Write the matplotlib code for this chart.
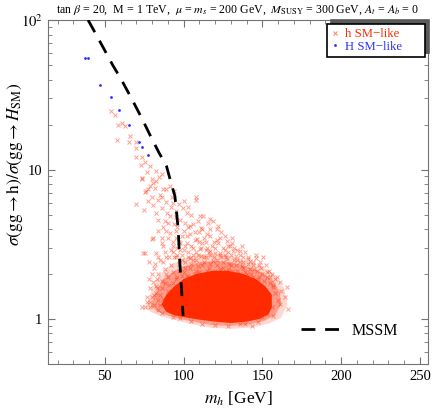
import matplotlib
matplotlib.use('Agg')
import matplotlib.pyplot as plt
from matplotlib.lines import Line2D

plt.rcParams['font.family'] = ['Liberation Serif', 'DejaVu Serif']
plt.rcParams['mathtext.fontset'] = 'stix'

# MSSM curve
mssm_mh = [39.4, 44.5, 49.5, 55, 60.6, 68, 74, 78.6, 84, 89.2, 92.4, 94.5, 96.6, 97.6, 98.5, 99.2, 99.7]
mssm_ratio = [100, 80, 64, 50, 39.8, 28.5, 21.5, 17.1, 13.2, 10.5, 7.9, 6.65, 3.98, 2.39, 1.7, 1.3, 1.05]

# H SM-like points
H_mh = [37.3, 39.4, 46.8, 53.8, 59.3, 65.2, 71.8, 73.9, 77.5]
H_ratio = [56, 56, 36.9, 30.5, 25, 19.9, 15.2, 14.1, 12.6]

# h SM-like points: sparse tail
tail_mh = [53.8, 56.3, 58.5, 61.0, 62.7, 65.9, 57.8, 65.2, 69.7, 69.5, 70.1, 73.3, 75.4, 72.7, 79.0,
           82.8, 86.6, 73.3, 79.7, 82.8, 78.6, 77.5, 81.8, 88.8, 91.3, 85.3, 76.0, 107.8, 92.4, 70.1,
           74.8, 75.4, 80.7, 79.7, 80.7, 83.8, 87.0, 86.0, 82.4, 89.2, 91.3, 88.1, 99.7, 101.9, 107.8,
           105.0, 109.2, 104, 111.3, 115.6, 116.7, 122, 110.3, 112.4, 118.4, 73.3, 84.5, 76.5, 93.5, 95,
           77.5, 84, 99, 103, 107, 94, 90, 87, 93, 106, 112, 117, 98, 101, 95, 92, 97, 103, 100,
           89, 86, 94]
tail_ratio = [24.8, 23.0, 19.9, 20.4, 19.6, 16.7, 15.8, 15.2, 15.3, 13.9, 12.2, 12.2, 11.2, 10.8, 10.6,
              9.75, 9.3, 8.7, 8.6, 8.4, 7.8, 7.4, 7.5, 7.4, 7.7, 6.8, 7.2, 6.5, 6.5, 5.84,
              5.35, 7.1, 8.1, 6.5, 5.8, 6.3, 7.4, 5.55, 5.13, 5.13, 4.89, 4.53, 5.55, 5.13, 6.3,
              5.0, 4.53, 4.18, 4.08, 4.4, 4.64, 4.18, 4.89, 4.89, 4.53, 8.8, 8.9, 9.6, 6.0, 5.3,
              6.2, 4.6, 3.6, 4.1, 3.8, 4.3, 4.4, 4.1, 3.3, 4.3, 4.0, 4.0, 4.6, 4.4, 4.8, 5.6, 5.9, 5.6, 6.2,
              6.1, 6.6, 7.2]

# h SM-like points: middle band
mid_mh = [83.8, 80.7, 86.0, 91.3, 114.6, 121, 123, 127.3, 129.4, 75.4, 82.8, 87, 93.4, 101.9, 108.3,
          110.3, 116.7, 123.1, 131.5, 127.3, 118.8, 126.3, 130.5, 135.8, 141, 148.4, 150.5, 146.3, 74.3, 79.7,
          89, 95, 98, 104, 106, 112, 119, 96, 100, 85, 89, 92, 95, 101, 104,
          108, 112, 114, 121, 125, 130, 134, 138, 142, 78, 81, 84, 88, 90, 97,
          100, 108, 116, 134, 138, 144, 126, 132, 115, 103, 97, 136, 140, 150, 152.7,
          148, 94, 99, 104, 108, 111, 114, 117, 120, 124, 128, 133, 138, 142, 146,
          92, 96, 101, 106, 110, 113, 118, 122, 125, 131, 87, 84, 82,
          86, 88, 90, 91, 93, 95, 96, 98, 99, 100, 102, 103, 105, 106, 107,
          109, 110, 111, 113, 114, 116, 117, 119, 120, 121, 123, 124, 126, 127, 128,
          130, 132, 134, 136, 137, 139, 141, 144, 146, 148, 152, 154, 156]
mid_ratio = [3.88, 3.5, 3.5, 3.78, 3.68, 3.98, 3.5, 3.33, 3.08, 2.78, 2.78, 3.08, 3.08, 3.24, 3.41,
             2.93, 2.85, 2.78, 2.85, 2.51, 2.45, 3.59, 3.5, 2.85, 2.51, 2.39, 2.58, 2.1, 2.78, 3.41,
             3.9, 3.5, 2.9, 3.7, 2.7, 3.2, 3.3, 4.1, 3.9, 2.5, 2.6, 2.3, 2.6, 2.4, 2.2,
             2.5, 2.3, 2.6, 2.3, 2.2, 2.3, 2.5, 2.2, 2.15, 2.4, 2.2, 2.0, 2.15, 1.9, 2.1,
             2.05, 2.1, 2.2, 2.1, 2.4, 2.3, 2.7, 3.0, 3.0, 2.8, 3.3, 2.7, 2.0, 2.0, 1.9,
             1.9, 2.6, 2.7, 2.55, 2.8, 2.65, 2.9, 2.7, 2.75, 2.6, 2.8, 2.65, 2.6, 2.45, 2.55,
             2.9, 3.0, 3.1, 3.0, 3.3, 3.5, 3.1, 3.2, 3.0, 3.2, 2.4, 2.6, 2.35,
             3.2, 2.8, 3.5, 2.6, 2.8, 3.9, 2.7, 3.2, 2.5, 2.9, 3.6, 2.6, 3.1, 2.5, 3.4,
             2.7, 3.8, 3.0, 2.6, 3.3, 2.8, 3.6, 2.6, 3.0, 3.4, 2.7, 3.8, 2.9, 2.6, 3.1,
             2.7, 2.5, 2.9, 2.4, 3.1, 2.8, 2.6, 2.4, 2.7, 2.3, 2.3, 2.1, 2.0]

# h SM-like points: around the dense core
fringe_mh = [161.2, 165.4, 164.3, 166.4, 161.2, 157, 149.6, 143.2, 135.8, 158, 160, 157, 156, 162, 153,
             147, 139, 128, 120, 112, 105, 98, 93, 158, 155, 75.4, 73.9, 76.9, 78.6, 82.8,
             80.7, 87, 91.3, 82.8, 80, 84, 86, 81, 84, 86, 79, 83, 88, 93, 96,
             102, 110, 120, 128, 136, 144, 86, 89, 91, 93, 95, 97, 99, 101, 103,
             105, 107, 109, 111, 113, 115, 117, 119, 121, 123, 125, 127, 129, 131, 133,
             135, 137, 139, 141, 143, 145, 147, 149, 151, 153, 155, 157, 159, 80, 78,
             83, 85, 81, 77, 79, 88, 90, 92, 85]
fringe_ratio = [1.76, 1.63, 1.4, 1.17, 1.26, 1.05, 1.03, 0.9, 0.93, 1.5, 1.35, 1.65, 1.2, 1.55, 1.08,
                0.96, 0.92, 0.9, 0.91, 0.93, 0.97, 1.02, 1.03, 1.85, 1.75, 1.2, 1.2, 1.29, 1.2, 1.67,
                1.76, 1.36, 1.47, 1.5, 1.4, 1.15, 1.1, 1.25, 1.35, 1.6, 1.6, 1.85, 1.75, 1.75, 1.9,
                1.95, 2.05, 2.1, 2.15, 2.0, 1.9, 1.8, 2.0, 1.7, 2.05, 1.85, 2.35, 1.95, 2.2, 1.9,
                2.35, 2.0, 2.25, 1.95, 2.4, 2.1, 2.35, 2.0, 2.5, 2.15, 2.4, 2.05, 2.35, 2.1, 2.3,
                1.95, 2.25, 2.05, 2.35, 2.0, 2.15, 1.85, 2.2, 1.8, 2.05, 1.9, 1.7, 1.9, 2.0, 1.85,
                1.6, 1.45, 1.45, 1.4, 1.3, 1.3, 1.55, 1.4, 1.25]

# outlines of the saturated parts of the h SM-like cloud
outer_mh = [76, 80, 85, 92, 100, 110, 120, 130, 140, 150, 158, 164, 166, 162, 154, 144, 132, 118, 106, 95, 86, 80]
outer_ratio = [1.18, 1.6, 2.0, 2.3, 2.55, 2.7, 2.75, 2.65, 2.45, 2.25, 1.95, 1.6, 1.25, 1.02, 0.93, 0.88,
               0.86, 0.87, 0.92, 0.98, 1.04, 1.1]
halo_mh = [79, 83, 87, 93, 100, 110, 120, 130, 140, 150, 157, 161, 162, 158, 151, 142, 130, 118, 106, 96, 88, 83]
halo_ratio = [1.22, 1.55, 1.85, 2.05, 2.25, 2.4, 2.45, 2.4, 2.25, 2.05, 1.8, 1.52, 1.25, 1.06, 0.97, 0.92,
              0.9, 0.91, 0.96, 1.01, 1.07, 1.13]
core_mh = [86, 89, 94, 100, 108, 118, 128, 138, 146, 152, 156, 156, 154, 148, 140, 130, 120, 110, 100, 94, 89]
core_ratio = [1.25, 1.45, 1.65, 1.85, 2.0, 2.1, 2.1, 2.0, 1.85, 1.65, 1.45, 1.2, 1.08, 1.0, 0.96, 0.94,
              0.96, 0.99, 1.03, 1.06, 1.12]

red = '#ff2a00'
blue = '#3030ff'

fig = plt.figure(figsize=(4.33, 4.09), dpi=100)
ax = fig.add_axes([0.111, 0.110, 0.877, 0.841])

ax.fill(outer_mh, outer_ratio, color=red, alpha=0.18, lw=0, zorder=1)
ax.fill(halo_mh, halo_ratio, color=red, alpha=0.35, lw=0, zorder=1)
ax.fill(core_mh, core_ratio, color=red, lw=0, zorder=1)
for xs, ys in [(tail_mh, tail_ratio), (mid_mh, mid_ratio), (fringe_mh, fringe_ratio)]:
    ax.plot(xs, ys, ls='none', marker='x', ms=3.3, mew=0.7, color=red, alpha=0.45, zorder=2)
ax.plot(H_mh, H_ratio, ls='none', marker='.', ms=2, color=blue, zorder=3)
line, = ax.plot(mssm_mh, mssm_ratio, color='black', lw=2, dashes=(5, 3.5), zorder=4)

ax.set_yscale('log')
ax.set_xlim(14, 255)
ax.set_ylim(0.5, 100)
ax.set_yticks([1, 10, 100], ['1', '10', '$10^2$'])
ax.set_xticks([50, 100, 150, 200, 250])
ax.set_xticks(range(20, 256, 10), minor=True)

for s in ax.spines.values():
    s.set_color('0.45')
ax.tick_params(which='both', direction='in', top=True, right=True, color='0.45',
               labelsize=10.5, pad=4)
ax.tick_params(which='major', length=5)
ax.tick_params(which='minor', length=3)

ax.set_xlabel('$m_h$ [GeV]', fontsize=12.5)
ax.xaxis.set_label_coords(0.5, -0.075)
ax.set_ylabel(r'$\sigma(\mathrm{gg}\rightarrow\mathrm{h})/\sigma(\mathrm{gg}\rightarrow H_{\mathrm{SM}})$',
              fontsize=12.5)
ax.yaxis.set_label_coords(-0.06, 0.58)
ax.set_title(r'tan $\beta$ = 20,  M = 1 TeV,  $\mu$ = $m_s$ = 200 GeV,  $M_{\mathrm{SUSY}}$ = 300 GeV, $A_t$ = $A_b$ = 0',
             fontsize=8.6, pad=5)

h1 = Line2D([], [], ls='none', marker='x', ms=3, mew=0.7, color=red, alpha=0.6)
h2 = Line2D([], [], ls='none', marker='.', ms=2, color=blue)
leg = ax.legend([h1, h2], ['h SM\u2212like', 'H SM\u2212like'], loc='upper left',
                bbox_to_anchor=(0.734, 0.89, 0.258, 0.099), mode='expand', borderaxespad=0,
                fontsize=9.2, borderpad=0.35, handlelength=0.6, handletextpad=0.5, labelspacing=0.05,
                fancybox=False, framealpha=1, edgecolor='black',
                shadow={'ox': 3, 'oy': 3, 'color': '0.35', 'alpha': 1})
leg.get_frame().set_linewidth(1.2)
for t, c in zip(leg.get_texts(), [red, blue]):
    t.set_color(c)
ax.add_artist(leg)

ax.legend([line], ['MSSM'], loc='lower right', bbox_to_anchor=(0.921, 0.073), borderaxespad=0,
          borderpad=0, frameon=False, fontsize=11.5, handlelength=2.4, handletextpad=0.75)

fig.savefig('out.png', dpi=100)
